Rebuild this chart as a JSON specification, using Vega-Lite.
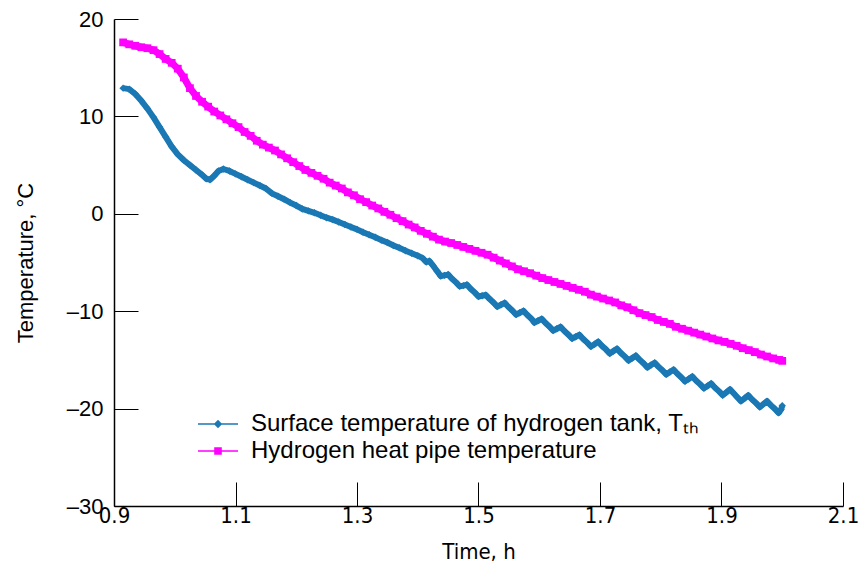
{
  "$schema": "https://vega.github.io/schema/vega-lite/v6.json",
  "autosize": {"type": "none"},
  "width": 729,
  "height": 487,
  "padding": {"left": 114, "top": 19, "right": 16, "bottom": 62},
  "background": "white",
  "config": {"view": {"stroke": null}},
  "data": {"values": [
    {"t":0.915,"v":12.9,"s":"tank"},{"t":0.925,"v":12.8,"s":"tank"},{"t":0.935,"v":12.3,"s":"tank"},{"t":0.945,"v":11.6,"s":"tank"},{"t":0.955,"v":10.8,"s":"tank"},{"t":0.965,"v":9.9,"s":"tank"},{"t":0.975,"v":8.9,"s":"tank"},{"t":0.985,"v":7.9,"s":"tank"},{"t":0.995,"v":6.9,"s":"tank"},{"t":1.005,"v":6.1,"s":"tank"},{"t":1.015,"v":5.5,"s":"tank"},{"t":1.025,"v":5.0,"s":"tank"},{"t":1.035,"v":4.5,"s":"tank"},{"t":1.045,"v":4.0,"s":"tank"},{"t":1.052,"v":3.6,"s":"tank"},{"t":1.058,"v":3.5,"s":"tank"},{"t":1.065,"v":3.9,"s":"tank"},{"t":1.072,"v":4.4,"s":"tank"},{"t":1.08,"v":4.6,"s":"tank"},{"t":1.09,"v":4.4,"s":"tank"},{"t":1.1,"v":4.1,"s":"tank"},{"t":1.11,"v":3.8,"s":"tank"},{"t":1.12,"v":3.5,"s":"tank"},{"t":1.13,"v":3.2,"s":"tank"},{"t":1.14,"v":2.9,"s":"tank"},{"t":1.15,"v":2.6,"s":"tank"},{"t":1.16,"v":2.1,"s":"tank"},{"t":1.17,"v":1.8,"s":"tank"},{"t":1.18,"v":1.5,"s":"tank"},{"t":1.19,"v":1.15,"s":"tank"},{"t":1.2,"v":0.85,"s":"tank"},{"t":1.21,"v":0.5,"s":"tank"},{"t":1.22,"v":0.3,"s":"tank"},{"t":1.23,"v":0.1,"s":"tank"},{"t":1.24,"v":-0.15,"s":"tank"},{"t":1.25,"v":-0.4,"s":"tank"},{"t":1.26,"v":-0.6,"s":"tank"},{"t":1.27,"v":-0.85,"s":"tank"},{"t":1.28,"v":-1.1,"s":"tank"},{"t":1.29,"v":-1.35,"s":"tank"},{"t":1.3,"v":-1.6,"s":"tank"},{"t":1.31,"v":-1.9,"s":"tank"},{"t":1.32,"v":-2.15,"s":"tank"},{"t":1.33,"v":-2.4,"s":"tank"},{"t":1.34,"v":-2.7,"s":"tank"},{"t":1.35,"v":-2.95,"s":"tank"},{"t":1.36,"v":-3.25,"s":"tank"},{"t":1.37,"v":-3.5,"s":"tank"},{"t":1.38,"v":-3.8,"s":"tank"},{"t":1.39,"v":-4.05,"s":"tank"},{"t":1.4,"v":-4.3,"s":"tank"},{"t":1.408,"v":-4.55,"s":"tank"},{"t":1.414,"v":-4.95,"s":"tank"},{"t":1.419,"v":-4.85,"s":"tank"},{"t":1.425,"v":-5.3,"s":"tank"},{"t":1.432,"v":-5.9,"s":"tank"},
    {"t":1.438,"v":-6.4,"s":"tank"},{"t":1.444,"v":-6.32,"s":"tank"},{"t":1.45,"v":-6.24,"s":"tank"},{"t":1.456,"v":-6.64,"s":"tank"},{"t":1.463,"v":-7.04,"s":"tank"},
    {"t":1.469,"v":-7.44,"s":"tank"},{"t":1.475,"v":-7.37,"s":"tank"},{"t":1.481,"v":-7.29,"s":"tank"},{"t":1.487,"v":-7.69,"s":"tank"},{"t":1.494,"v":-8.09,"s":"tank"},
    {"t":1.5,"v":-8.49,"s":"tank"},{"t":1.506,"v":-8.41,"s":"tank"},{"t":1.512,"v":-8.33,"s":"tank"},{"t":1.518,"v":-8.73,"s":"tank"},{"t":1.525,"v":-9.13,"s":"tank"},
    {"t":1.531,"v":-9.53,"s":"tank"},{"t":1.537,"v":-9.34,"s":"tank"},{"t":1.543,"v":-9.15,"s":"tank"},{"t":1.549,"v":-9.55,"s":"tank"},{"t":1.556,"v":-9.95,"s":"tank"},
    {"t":1.562,"v":-10.35,"s":"tank"},{"t":1.568,"v":-10.16,"s":"tank"},{"t":1.574,"v":-9.97,"s":"tank"},{"t":1.58,"v":-10.37,"s":"tank"},{"t":1.587,"v":-10.77,"s":"tank"},
    {"t":1.592,"v":-11.17,"s":"tank"},{"t":1.598,"v":-10.98,"s":"tank"},{"t":1.604,"v":-10.79,"s":"tank"},{"t":1.61,"v":-11.19,"s":"tank"},{"t":1.617,"v":-11.59,"s":"tank"},
    {"t":1.623,"v":-11.99,"s":"tank"},{"t":1.629,"v":-11.8,"s":"tank"},{"t":1.635,"v":-11.61,"s":"tank"},{"t":1.641,"v":-12.01,"s":"tank"},{"t":1.648,"v":-12.41,"s":"tank"},
    {"t":1.654,"v":-12.81,"s":"tank"},{"t":1.66,"v":-12.62,"s":"tank"},{"t":1.666,"v":-12.43,"s":"tank"},{"t":1.672,"v":-12.83,"s":"tank"},{"t":1.679,"v":-13.23,"s":"tank"},
    {"t":1.685,"v":-13.63,"s":"tank"},{"t":1.691,"v":-13.39,"s":"tank"},{"t":1.697,"v":-13.14,"s":"tank"},{"t":1.703,"v":-13.54,"s":"tank"},{"t":1.71,"v":-13.94,"s":"tank"},
    {"t":1.716,"v":-14.34,"s":"tank"},{"t":1.722,"v":-14.1,"s":"tank"},{"t":1.728,"v":-13.86,"s":"tank"},{"t":1.734,"v":-14.26,"s":"tank"},{"t":1.741,"v":-14.66,"s":"tank"},
    {"t":1.747,"v":-15.06,"s":"tank"},{"t":1.753,"v":-14.82,"s":"tank"},{"t":1.759,"v":-14.57,"s":"tank"},{"t":1.765,"v":-14.97,"s":"tank"},{"t":1.772,"v":-15.37,"s":"tank"},
    {"t":1.778,"v":-15.77,"s":"tank"},{"t":1.784,"v":-15.53,"s":"tank"},{"t":1.79,"v":-15.29,"s":"tank"},{"t":1.796,"v":-15.69,"s":"tank"},{"t":1.803,"v":-16.09,"s":"tank"},
    {"t":1.809,"v":-16.49,"s":"tank"},{"t":1.815,"v":-16.25,"s":"tank"},{"t":1.821,"v":-16.0,"s":"tank"},{"t":1.827,"v":-16.4,"s":"tank"},{"t":1.834,"v":-16.8,"s":"tank"},
    {"t":1.84,"v":-17.2,"s":"tank"},{"t":1.846,"v":-16.96,"s":"tank"},{"t":1.852,"v":-16.71,"s":"tank"},{"t":1.858,"v":-17.11,"s":"tank"},{"t":1.865,"v":-17.51,"s":"tank"},
    {"t":1.871,"v":-17.91,"s":"tank"},{"t":1.877,"v":-17.67,"s":"tank"},{"t":1.883,"v":-17.43,"s":"tank"},{"t":1.889,"v":-17.83,"s":"tank"},{"t":1.896,"v":-18.23,"s":"tank"},
    {"t":1.902,"v":-18.63,"s":"tank"},{"t":1.908,"v":-18.33,"s":"tank"},{"t":1.914,"v":-18.03,"s":"tank"},{"t":1.92,"v":-18.43,"s":"tank"},{"t":1.926,"v":-18.83,"s":"tank"},
    {"t":1.932,"v":-19.23,"s":"tank"},{"t":1.938,"v":-18.94,"s":"tank"},{"t":1.944,"v":-18.64,"s":"tank"},{"t":1.95,"v":-19.04,"s":"tank"},{"t":1.957,"v":-19.44,"s":"tank"},
    {"t":1.963,"v":-19.84,"s":"tank"},{"t":1.969,"v":-19.54,"s":"tank"},{"t":1.975,"v":-19.24,"s":"tank"},{"t":1.981,"v":-19.64,"s":"tank"},{"t":1.988,"v":-20.04,"s":"tank"},
    {"t":1.994,"v":-20.44,"s":"tank"},{"t":1.998,"v":-20.1,"s":"tank"},{"t":2.0,"v":-19.7,"s":"tank"},
    {"t":0.915,"v":17.6,"s":"pipe"},{"t":0.925,"v":17.4,"s":"pipe"},{"t":0.935,"v":17.25,"s":"pipe"},{"t":0.945,"v":17.1,"s":"pipe"},{"t":0.955,"v":17.0,"s":"pipe"},{"t":0.965,"v":16.8,"s":"pipe"},{"t":0.975,"v":16.4,"s":"pipe"},{"t":0.985,"v":15.9,"s":"pipe"},{"t":0.995,"v":15.5,"s":"pipe"},{"t":1.005,"v":14.9,"s":"pipe"},{"t":1.015,"v":14.0,"s":"pipe"},{"t":1.025,"v":12.9,"s":"pipe"},{"t":1.035,"v":12.1,"s":"pipe"},{"t":1.045,"v":11.5,"s":"pipe"},{"t":1.055,"v":11.0,"s":"pipe"},{"t":1.065,"v":10.5,"s":"pipe"},{"t":1.075,"v":10.1,"s":"pipe"},{"t":1.085,"v":9.7,"s":"pipe"},{"t":1.095,"v":9.3,"s":"pipe"},{"t":1.105,"v":8.9,"s":"pipe"},{"t":1.115,"v":8.4,"s":"pipe"},{"t":1.125,"v":8.0,"s":"pipe"},{"t":1.135,"v":7.5,"s":"pipe"},{"t":1.145,"v":7.1,"s":"pipe"},{"t":1.155,"v":6.8,"s":"pipe"},{"t":1.165,"v":6.5,"s":"pipe"},{"t":1.175,"v":6.1,"s":"pipe"},{"t":1.185,"v":5.7,"s":"pipe"},{"t":1.195,"v":5.3,"s":"pipe"},{"t":1.205,"v":4.9,"s":"pipe"},{"t":1.215,"v":4.5,"s":"pipe"},{"t":1.225,"v":4.2,"s":"pipe"},{"t":1.235,"v":3.9,"s":"pipe"},{"t":1.245,"v":3.6,"s":"pipe"},{"t":1.255,"v":3.2,"s":"pipe"},{"t":1.265,"v":2.9,"s":"pipe"},{"t":1.275,"v":2.6,"s":"pipe"},{"t":1.285,"v":2.2,"s":"pipe"},{"t":1.295,"v":1.9,"s":"pipe"},{"t":1.305,"v":1.5,"s":"pipe"},{"t":1.315,"v":1.2,"s":"pipe"},{"t":1.325,"v":0.85,"s":"pipe"},{"t":1.335,"v":0.55,"s":"pipe"},{"t":1.345,"v":0.2,"s":"pipe"},{"t":1.355,"v":-0.1,"s":"pipe"},{"t":1.365,"v":-0.45,"s":"pipe"},{"t":1.375,"v":-0.75,"s":"pipe"},{"t":1.385,"v":-1.1,"s":"pipe"},{"t":1.395,"v":-1.4,"s":"pipe"},{"t":1.405,"v":-1.75,"s":"pipe"},{"t":1.415,"v":-2.05,"s":"pipe"},{"t":1.425,"v":-2.35,"s":"pipe"},{"t":1.435,"v":-2.65,"s":"pipe"},{"t":1.445,"v":-2.85,"s":"pipe"},{"t":1.455,"v":-3.0,"s":"pipe"},{"t":1.465,"v":-3.2,"s":"pipe"},{"t":1.475,"v":-3.4,"s":"pipe"},{"t":1.485,"v":-3.6,"s":"pipe"},{"t":1.495,"v":-3.8,"s":"pipe"},{"t":1.505,"v":-4.0,"s":"pipe"},{"t":1.515,"v":-4.2,"s":"pipe"},{"t":1.525,"v":-4.5,"s":"pipe"},{"t":1.535,"v":-4.8,"s":"pipe"},{"t":1.545,"v":-5.1,"s":"pipe"},{"t":1.555,"v":-5.4,"s":"pipe"},{"t":1.565,"v":-5.7,"s":"pipe"},{"t":1.575,"v":-5.9,"s":"pipe"},{"t":1.585,"v":-6.1,"s":"pipe"},{"t":1.595,"v":-6.35,"s":"pipe"},{"t":1.605,"v":-6.6,"s":"pipe"},{"t":1.615,"v":-6.8,"s":"pipe"},{"t":1.625,"v":-7.0,"s":"pipe"},{"t":1.635,"v":-7.2,"s":"pipe"},{"t":1.645,"v":-7.4,"s":"pipe"},{"t":1.655,"v":-7.6,"s":"pipe"},{"t":1.665,"v":-7.8,"s":"pipe"},{"t":1.675,"v":-8.0,"s":"pipe"},{"t":1.685,"v":-8.3,"s":"pipe"},{"t":1.695,"v":-8.5,"s":"pipe"},{"t":1.705,"v":-8.7,"s":"pipe"},{"t":1.715,"v":-8.9,"s":"pipe"},{"t":1.725,"v":-9.1,"s":"pipe"},{"t":1.735,"v":-9.4,"s":"pipe"},{"t":1.745,"v":-9.6,"s":"pipe"},{"t":1.755,"v":-9.9,"s":"pipe"},{"t":1.765,"v":-10.2,"s":"pipe"},{"t":1.775,"v":-10.4,"s":"pipe"},{"t":1.785,"v":-10.6,"s":"pipe"},{"t":1.795,"v":-10.9,"s":"pipe"},{"t":1.805,"v":-11.1,"s":"pipe"},{"t":1.815,"v":-11.3,"s":"pipe"},{"t":1.825,"v":-11.6,"s":"pipe"},{"t":1.835,"v":-11.8,"s":"pipe"},{"t":1.845,"v":-12.0,"s":"pipe"},{"t":1.855,"v":-12.2,"s":"pipe"},{"t":1.865,"v":-12.4,"s":"pipe"},{"t":1.875,"v":-12.6,"s":"pipe"},{"t":1.885,"v":-12.8,"s":"pipe"},{"t":1.895,"v":-13.0,"s":"pipe"},{"t":1.905,"v":-13.15,"s":"pipe"},{"t":1.915,"v":-13.35,"s":"pipe"},{"t":1.925,"v":-13.55,"s":"pipe"},{"t":1.935,"v":-13.8,"s":"pipe"},{"t":1.945,"v":-14.0,"s":"pipe"},{"t":1.955,"v":-14.2,"s":"pipe"},{"t":1.965,"v":-14.45,"s":"pipe"},{"t":1.975,"v":-14.65,"s":"pipe"},{"t":1.985,"v":-14.85,"s":"pipe"},{"t":1.995,"v":-15.0,"s":"pipe"},{"t":2.0,"v":-15.1,"s":"pipe"}
  ]},
  "encoding": {
    "x": {
      "field": "t", "type": "quantitative",
      "scale": {"domain": [0.9, 2.1], "nice": false, "zero": false},
      "axis": {
        "title": "Time, h", "values": [0.9, 1.1, 1.3, 1.5, 1.7, 1.9, 2.1], "format": ".1f",
        "grid": false, "tickSize": -24, "labelPadding": 23, "tickColor": "black", "tickWidth": 1,
        "domainColor": "black", "domainWidth": 1.5,
        "labelFont": "Liberation Sans Narrow, DejaVu Sans Condensed, Liberation Sans", "labelFontSize": 22, "labelColor": "black",
        "titleFont": "Liberation Sans Narrow, DejaVu Sans Condensed, Liberation Sans", "titleFontSize": 22, "titleFontWeight": "normal", "titleColor": "black", "titlePadding": 15,
        "labelFlush": false, "labelOverlap": false
      }
    },
    "y": {
      "field": "v", "type": "quantitative",
      "scale": {"domain": [-30, 20], "nice": false, "zero": false},
      "axis": {
        "title": "Temperature, °C", "values": [-30, -20, -10, 0, 10, 20],
        "labelExpr": "datum.value < 0 ? '–' + abs(datum.value) : datum.label",
        "grid": false, "tickSize": -24, "labelPadding": 35, "tickColor": "black", "tickWidth": 1,
        "domainColor": "black", "domainWidth": 1.5,
        "labelFont": "Liberation Sans", "labelFontSize": 22, "labelColor": "black",
        "titleFont": "Liberation Sans", "titleFontSize": 22, "titleFontWeight": "normal", "titleColor": "black", "titlePadding": 29,
        "labelFlush": false, "labelOverlap": false
      }
    },
    "color": {
      "field": "s", "type": "nominal",
      "scale": {"domain": ["tank", "pipe"], "range": ["#1a78b4", "#ff00ff"]},
      "legend": {
        "title": null, "orient": "none", "legendX": 92, "legendY": 393,
        "labelExpr": "datum.value === 'tank' ? 'Surface temperature of hydrogen tank, Tₜₕ' : 'Hydrogen heat pipe temperature'",
        "labelFont": "Liberation Sans", "labelFontSize": 24, "labelColor": "black", "labelLimit": 700,
        "labelOffset": 21, "rowPadding": 3, "symbolSize": 400, "symbolStrokeWidth": 0,
        "encode": {
          "symbols": {"update": {
            "shape": {"signal": "datum.value === 'tank' ? 'M-2,-0.08L2,-0.08L2,0.08L-2,0.08ZM-0.42,0L0,-0.42L0.42,0L0,0.42Z' : 'M-2,-0.08L2,-0.08L2,0.08L-2,0.08ZM-0.38,-0.38L0.38,-0.38L0.38,0.38L-0.38,0.38Z'"},
            "size": {"value": 400},
            "fill": {"scale": "color", "field": "value"},
            "stroke": {"value": "transparent"},
            "strokeWidth": {"value": 0},
            "opacity": {"value": 1}
          }}
        }
      }
    }
  },
  "layer": [
    {
      "transform": [{"filter": "datum.s === 'tank'"}],
      "mark": {"type": "line", "strokeJoin": "round", "strokeWidth": 6}
    },
    {
      "transform": [{"filter": "datum.s === 'pipe'"}],
      "mark": {"type": "line", "strokeJoin": "round", "strokeWidth": 7}
    },
    {
      "transform": [{"filter": "datum.s === 'tank'"}],
      "mark": {"type": "point", "filled": true, "opacity": 1, "shape": "diamond", "size": 55}
    },
    {
      "transform": [{"filter": "datum.s === 'pipe'"}],
      "mark": {"type": "point", "filled": true, "opacity": 1, "shape": "square", "size": 60}
    }
  ]
}
